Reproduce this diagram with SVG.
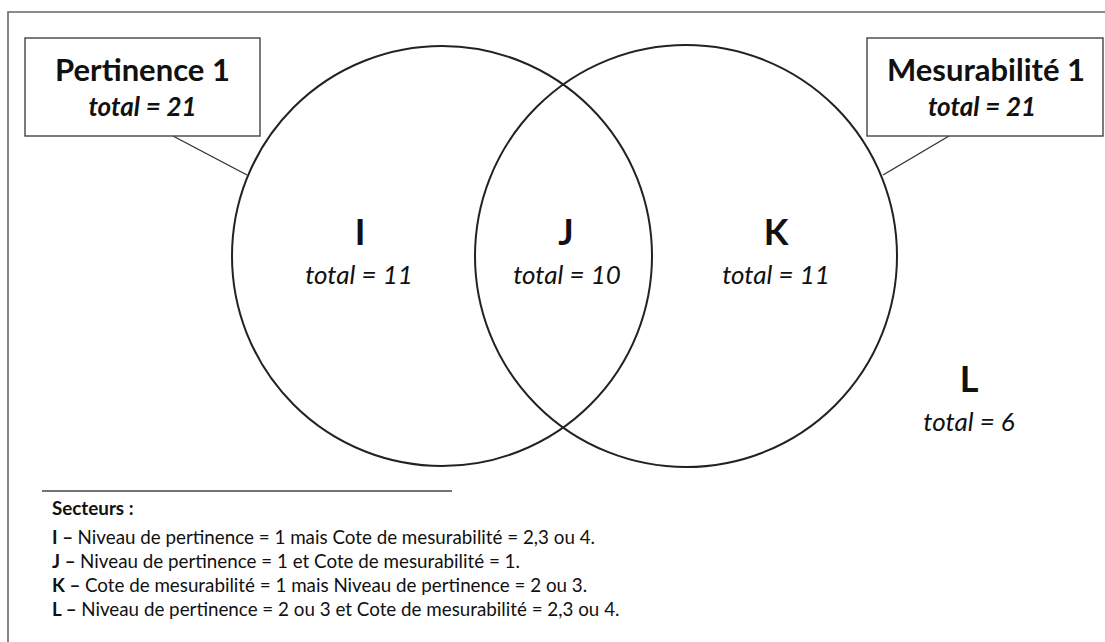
<svg xmlns="http://www.w3.org/2000/svg" width="1105" height="642" viewBox="0 0 1105 642">
  <style>
    .frame { fill: none; stroke: #666; stroke-width: 1.6; }
    .box { fill: #fff; stroke: #444; stroke-width: 1.4; }
    .set { fill: none; stroke: #222; stroke-width: 2; }
    .lead { fill: none; stroke: #333; stroke-width: 1.4; }
    .title { font-family: Lato, "Open Sans", sans-serif; font-weight: bold; font-size: 31px; fill: #111; text-anchor: middle; }
    .sub { font-family: Lato, "Open Sans", sans-serif; font-weight: bold; font-style: italic; font-size: 26px; fill: #111; text-anchor: middle; }
    .zone { font-family: Lato, "Open Sans", sans-serif; font-weight: bold; font-size: 36px; fill: #111; text-anchor: middle; }
    .count { font-family: Lato, "Open Sans", sans-serif; font-style: italic; font-size: 26px; fill: #111; text-anchor: middle; }
    .legend { font-family: Lato, "Open Sans", sans-serif; font-size: 18.8px; fill: #111; }
    .legend .b { font-weight: bold; }
  </style>
  <rect width="1105" height="642" fill="#fff"/>
  <!-- outer frame (open to the right and bottom) -->
  <path class="frame" d="M8 650 V12 H1110"/>

  <!-- the two sets -->
  <g id="set-pertinence">
    <circle class="set" cx="442" cy="256" r="210"/>
  </g>
  <g id="set-mesurabilite">
    <circle class="set" cx="686" cy="256" r="211"/>
  </g>

  <!-- leader lines from labels to circles -->
  <g id="connectors">
    <line class="lead" x1="173" y1="136" x2="247" y2="175"/>
    <line class="lead" x1="949" y1="136" x2="883" y2="175"/>
  </g>

  <g id="label-pertinence">
    <rect class="box" x="25" y="38" width="235" height="98"/>
    <text class="title" x="142.5" y="81">Pertinence 1</text>
    <text class="sub" x="142.5" y="116">total = 21</text>
  </g>
  <g id="label-mesurabilite">
    <rect class="box" x="867" y="38" width="236" height="98"/>
    <text class="title" x="986" y="81">Mesurabilité 1</text>
    <text class="sub" x="982" y="116">total = 21</text>
  </g>

  <g id="zone-I">
    <text class="zone" x="360" y="245">I</text>
    <text class="count" x="359" y="284">total = 11</text>
  </g>
  <g id="zone-J">
    <text class="zone" x="566" y="245">J</text>
    <text class="count" x="567" y="284">total = 10</text>
  </g>
  <g id="zone-K">
    <text class="zone" x="776" y="245">K</text>
    <text class="count" x="776" y="284">total = 11</text>
  </g>
  <g id="zone-L">
    <text class="zone" x="969" y="392">L</text>
    <text class="count" x="969" y="431">total = 6</text>
  </g>

  <!-- sector legend -->
  <g id="legend">
    <line x1="42" y1="491" x2="452" y2="491" stroke="#444" stroke-width="1.6"/>
    <text class="legend" x="52" y="515"><tspan class="b">Secteurs :</tspan></text>
    <text class="legend" x="52" y="544"><tspan class="b">I – </tspan>Niveau de pertinence = 1 mais Cote de mesurabilité = 2,3 ou 4.</text>
    <text class="legend" x="52" y="568"><tspan class="b">J – </tspan>Niveau de pertinence = 1 et Cote de mesurabilité = 1.</text>
    <text class="legend" x="52" y="592"><tspan class="b">K – </tspan>Cote de mesurabilité = 1 mais Niveau de pertinence = 2 ou 3.</text>
    <text class="legend" x="52" y="616"><tspan class="b">L – </tspan>Niveau de pertinence = 2 ou 3 et Cote de mesurabilité = 2,3 ou 4.</text>
  </g>
</svg>
